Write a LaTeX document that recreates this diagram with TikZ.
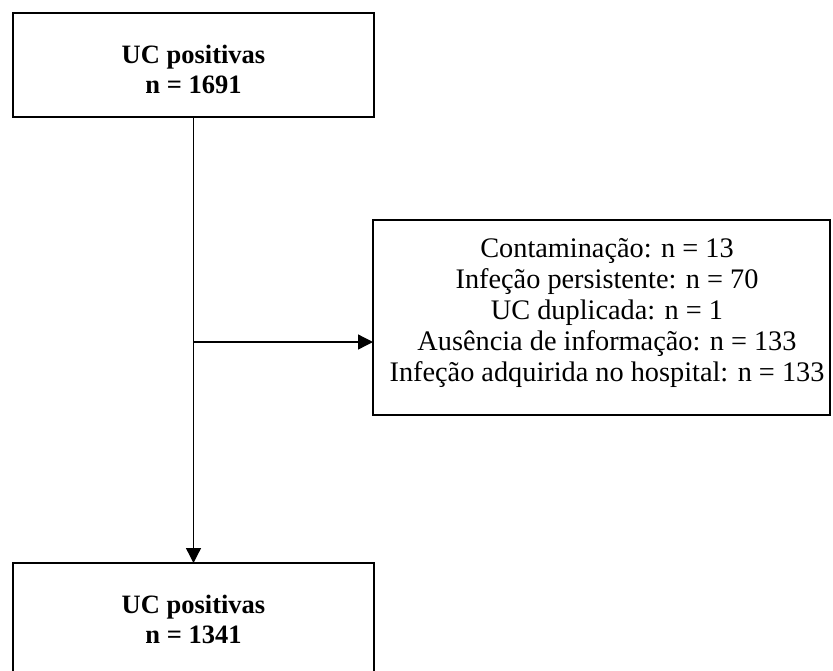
\documentclass[tikz,border=0pt]{standalone}
\usepackage{fontspec}
\setmainfont{Liberation Serif}
\usetikzlibrary{arrows.meta}
\begin{document}
\begin{tikzpicture}[x=1pt,y=1pt,
  box/.style={draw=black,line width=2pt,inner sep=0pt,outer sep=0pt},
  txt/.style={anchor=base,inner sep=0pt,font=\fontsize{28.3}{32}\selectfont},
  btxt/.style={anchor=base,inner sep=0pt,font=\fontsize{26.5}{32}\selectfont\bfseries},
  conn/.style={line width=1.3pt,-{Triangle[length=15pt,width=15pt]}}]
\useasboundingbox (0,0) rectangle (833,-670);
\clip (0,0) rectangle (833,-670);
% boxes
\node[box,minimum width=361pt,minimum height=104pt] (top) at (193.5,-65) {};
\node[box,minimum width=457pt,minimum height=195pt] (excl) at (601.5,-317.5) {};
\node[box,minimum width=361pt,minimum height=137pt] (bot) at (193.5,-631.5) {};
% texts
\node[btxt] (top1) at (193.5,-63) {UC positivas};
\node[btxt] (top2) at (193.5,-93) {n = 1691};
\node[txt] (ex1) at (607,-257) {Contaminação: n = 13};
\node[txt] (ex2) at (607,-288) {Infeção persistente: n = 70};
\node[txt] (ex3) at (607,-319) {UC duplicada: n = 1};
\node[txt] (ex4) at (607,-350) {Ausência de informação: n = 133};
\node[txt] (ex5) at (607,-381) {Infeção adquirida no hospital: n = 133};
\node[btxt] (bot1) at (193.5,-613) {UC positivas};
\node[btxt] (bot2) at (193.5,-643) {n = 1341};
% connectors
\coordinate (j) at (193.5,-342);
\draw[conn] (top.south) -- (bot.north);
\draw[conn] (j) -- (j -| excl.west);
\end{tikzpicture}
\end{document}
